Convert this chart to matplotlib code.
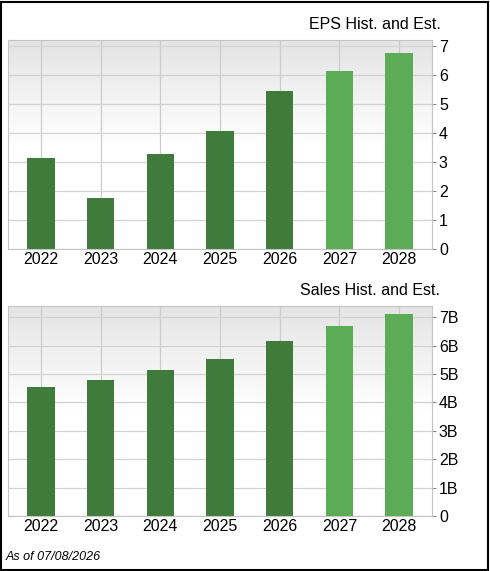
import matplotlib
matplotlib.use("Agg")
import matplotlib.pyplot as plt
import numpy as np
from matplotlib.patches import Rectangle

plt.rcParams['font.family'] = ['Liberation Sans', 'DejaVu Sans']

years = ["2022", "2023", "2024", "2025", "2026", "2027", "2028"]
eps = [3.15, 1.75, 3.27, 4.05, 5.45, 6.12, 6.75]
sales_b = [4.55, 4.78, 5.13, 5.55, 6.15, 6.68, 7.12]
estimate = [False, False, False, False, False, True, True]
eps_ticks = [0, 1, 2, 3, 4, 5, 6, 7]
sales_ticks = [0, 1, 2, 3, 4, 5, 6, 7]
sales_labels = ["0", "1B", "2B", "3B", "4B", "5B", "6B", "7B"]

W, H = 490, 571
fig = plt.figure(figsize=(W/100, H/100), dpi=100)
fig.patch.set_facecolor("white")
fig.add_artist(Rectangle((1/W, 1/H), 1-3/W, 1-3/H, transform=fig.transFigure,
                         fill=False, edgecolor="black", lw=1.5))

dark, light = "#3f7b3b", "#5cab55"
colors = [light if e else dark for e in estimate]

def panel(rect_px, vals, ymax, ticks, labels, title):
    l, t, r, b = rect_px
    ax = fig.add_axes([l/W, 1-b/H, (r-l)/W, (b-t)/H])
    x = np.arange(len(years))
    ax.set_xlim(-0.55, len(years)-0.45)
    ax.set_ylim(0, ymax)
    grad = np.clip(np.linspace(-1, 1, 256), 0, 1).reshape(-1, 1)
    ax.imshow(grad, extent=[-0.55, len(years)-0.45, 0, ymax], aspect="auto",
              cmap=matplotlib.colors.LinearSegmentedColormap.from_list("g", ["#ffffff", "#e4e4e4"]),
              vmin=0, vmax=1, zorder=0, origin="lower")
    for xi in x:
        ax.axvline(xi, color="#cccccc", lw=0.9, zorder=1)
    for yt in ticks:
        ax.axhline(yt, color="#d2d2d2", lw=0.9, zorder=1)
    ax.bar(x, vals, width=0.46, color=colors, zorder=2)
    ax.set_xticks(x)
    ax.set_xticklabels(years, fontsize=11.5)
    ax.yaxis.tick_right()
    ax.set_yticks(ticks)
    ax.set_yticklabels(labels, fontsize=11.5)
    ax.tick_params(axis="x", length=0, pad=2)
    ax.tick_params(axis="y", length=3, color="#888888", pad=2)
    for s in ax.spines.values():
        s.set_color("#c4c4c4")
    ax.text(1.02, 1.04, title, transform=ax.transAxes, ha="right", va="bottom", fontsize=11.5)
    return ax

panel((8, 40, 432, 249), eps, 7.2, eps_ticks, [str(v) for v in eps_ticks], "EPS Hist. and Est.")
panel((8, 306, 432, 516), sales_b, 7.4, sales_ticks, sales_labels, "Sales Hist. and Est.")
fig.text(6/W, 1-557/H, "As of 07/08/2026", fontsize=9, style="italic", va="center")
fig.savefig("out.png", dpi=100)
